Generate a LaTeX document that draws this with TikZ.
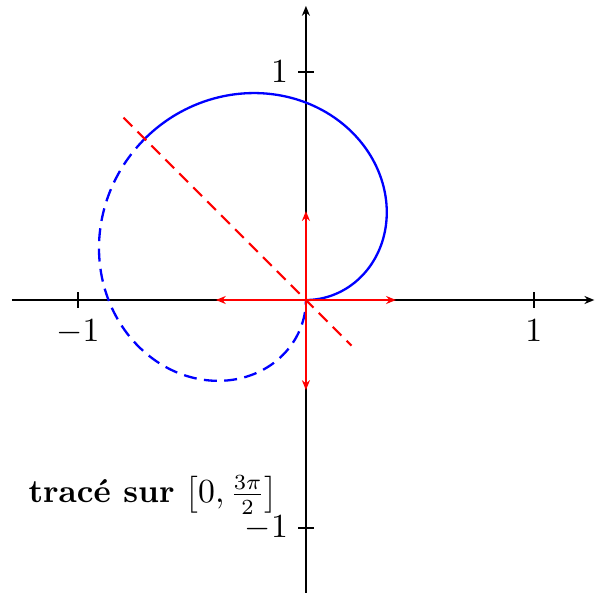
\documentclass[tikz,border=0pt]{standalone}
\usetikzlibrary{arrows.meta}
\begin{document}
\begin{tikzpicture}[x=2.6cm,y=2.6cm,
  every node/.style={font=\fontsize{10.6pt}{12.7pt}\selectfont},
  axis/.style={line width=0.75pt,-{Stealth[length=3.2pt,width=2.6pt]}},
  tickmark/.style={line width=0.75pt},
  curve/.style={blue,line width=0.75pt},
  dashcurve/.style={curve,dash pattern=on 4.2pt off 2.4pt},
  vec/.style={red,line width=0.75pt,-{Stealth[length=3.2pt,width=2.6pt]}},
  tangline/.style={red,line width=0.7pt,dash pattern=on 4pt off 2.4pt},
  lab/.style={inner sep=1pt}]
\useasboundingbox (-1.342,-1.281) rectangle (1.268,1.316);
\coordinate (O) at (0,0);
\coordinate (xl) at (-1.29,0);
\coordinate (xr) at (1.265,0);
\coordinate (yb) at (0,-1.29);
\coordinate (yt) at (0,1.29);
\draw[axis] (xl) -- (xr);
\draw[axis] (yb) -- (yt);
% ticks
\coordinate (tx1a) at (1,0.035); \coordinate (tx1b) at (1,-0.035);
\coordinate (txm1a) at (-1,0.035); \coordinate (txm1b) at (-1,-0.035);
\coordinate (ty1a) at (0.035,1); \coordinate (ty1b) at (-0.035,1);
\coordinate (tym1a) at (0.035,-1); \coordinate (tym1b) at (-0.035,-1);
\draw[tickmark] (tx1a) -- (tx1b);
\draw[tickmark] (txm1a) -- (txm1b);
\draw[tickmark] (ty1a) -- (ty1b);
\draw[tickmark] (tym1a) -- (tym1b);
\node[lab,below=2.5pt] (lx1) at (tx1b) {$1$};
\node[lab,below=2.5pt] (lxm1) at (txm1b) {$-1$};
\node[lab,left=2pt] (ly1) at (ty1b) {$1$};
\node[lab,left=2pt] (lym1) at (tym1b) {$-1$};
% curve r = sin(2t/3)
\draw[curve] plot[domain=0:135,samples=120,variable=\t,smooth] ({sin(2*\t/3)*cos(\t)},{sin(2*\t/3)*sin(\t)});
\draw[dashcurve] plot[domain=135:270,samples=120,variable=\t,smooth] ({sin(2*\t/3)*cos(\t)},{sin(2*\t/3)*sin(\t)});
% tangent line
\coordinate (ta) at (-0.8,0.8);
\coordinate (tb) at (0.2,-0.2);
\draw[tangline] (ta) -- (tb);
% vectors
\coordinate (vr) at (0.395,0);
\coordinate (vl) at (-0.395,0);
\coordinate (vu) at (0,0.39);
\coordinate (vd) at (0,-0.395);
\draw[vec] (O) -- (vr);
\draw[vec] (O) -- (vl);
\draw[vec] (O) -- (vu);
\draw[vec] (O) -- (vd);
\node (title) at (-0.67,-0.855) {\textbf{tracé sur} $\left[0,\frac{3\pi}{2}\right]$};
\end{tikzpicture}
\end{document}
